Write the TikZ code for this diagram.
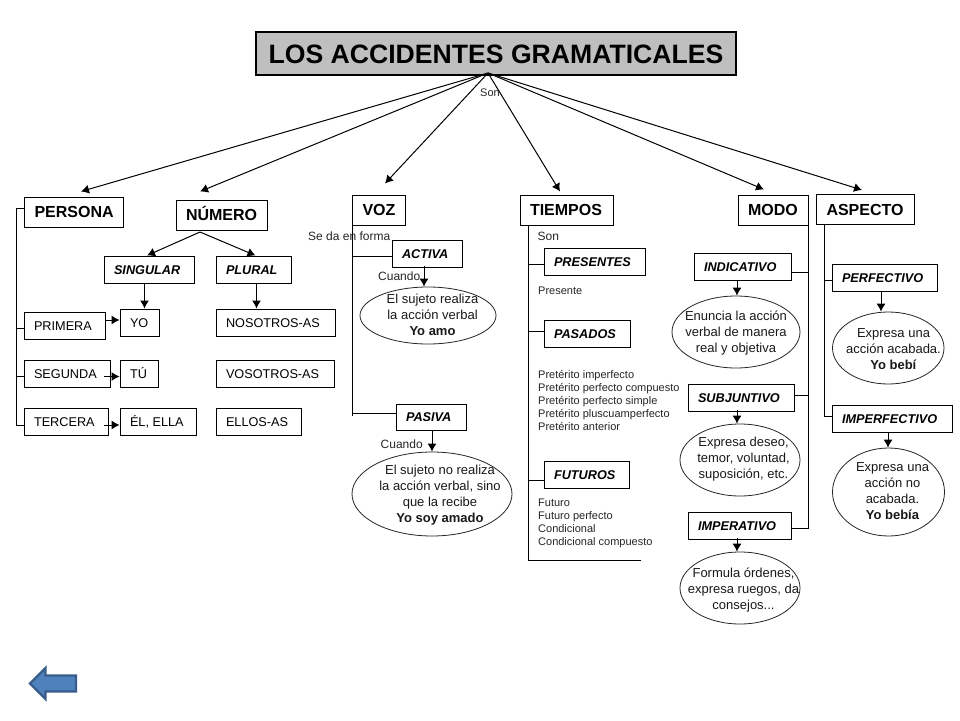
\documentclass[tikz,border=0pt]{standalone}
\usepackage{fontspec}
\setmainfont{Liberation Sans}
\usetikzlibrary{arrows.meta,shapes.geometric}
\newcommand{\fs}[2]{\fontsize{#1}{#2}\selectfont}
\definecolor{btnfill}{RGB}{79,129,189}
\definecolor{btnline}{RGB}{56,93,138}
\tikzset{
  x=1pt,y=-1pt,
  basebox/.style={draw=black,line width=1pt,rectangle,inner sep=0pt,fill=white,text depth=0pt},
  headbox/.style={basebox,font=\fs{16}{18}\bfseries,text height=11.5pt},
  catbox/.style={basebox,font=\fs{12.7}{15}\bfseries\itshape,text height=9.1pt},
  wordbox/.style={basebox,font=\fs{12.7}{15},text height=9.1pt},
  titlebox/.style={draw=black,line width=1.2pt,fill=black!25,inner sep=0pt,font=\fs{26.6}{30}\bfseries,text height=19pt,text depth=0pt},
  oval/.style={ellipse,draw=black!85,line width=.8pt,inner sep=0pt,fill=white},
  ovaltext/.style={align=center,inner sep=0pt,font=\fs{13}{16},text=black!90},
  note/.style={anchor=west,inner sep=0pt,font=\fs{12}{13},text=black!85},
  smallnote/.style={anchor=north west,align=left,inner sep=0pt,font=\fs{11}{13},text=black!85},
  conn/.style={line width=1pt,draw=black},
  arr/.style={line width=1pt,draw=black,-{Latex[length=8pt,width=9pt]}},
  thinarr/.style={arr},
}
\newcommand{\bx}[7]{%
  \pgfmathsetmacro{\bw}{#4-#2}\pgfmathsetmacro{\bh}{#5-#3}%
  \pgfmathsetmacro{\bcx}{(#2+#4)/2}\pgfmathsetmacro{\bcy}{(#3+#5)/2}%
  \node[#6,minimum width=\bw pt,minimum height=\bh pt] (#1) at (\bcx,\bcy)
    {\makebox[\bw pt][l]{\hspace{10pt}#7}};}
\newcommand{\ov}[5]{%
  \pgfmathsetmacro{\bw}{#4-#2}\pgfmathsetmacro{\bh}{#5-#3}%
  \pgfmathsetmacro{\bcx}{(#2+#4)/2}\pgfmathsetmacro{\bcy}{(#3+#5)/2}%
  \node[oval,minimum width=\bw pt,minimum height=\bh pt] (#1) at (\bcx,\bcy) {};}
\begin{document}
\begin{tikzpicture}
\useasboundingbox[fill=white] (0,0) rectangle (960,720);

% title
\node[titlebox,minimum width=480pt,minimum height=43pt] (title) at (496,53.5) {LOS ACCIDENTES GRAMATICALES};

% main heads
\bx{persona}{24.5}{197}{123}{227}{headbox}{PERSONA}
\bx{numero}{176}{200}{267}{230}{headbox}{NÚMERO}
\bx{voz}{352.5}{195}{405}{225}{headbox}{VOZ}
\bx{tiempos}{520}{195}{613}{225}{headbox}{TIEMPOS}
\bx{modo}{738}{195}{808}{225}{headbox}{MODO}
\bx{aspecto}{816.5}{194.5}{914}{224}{headbox}{ASPECTO}

% numero / persona
\bx{singular}{104}{256}{194}{283}{catbox}{SINGULAR}
\bx{plural}{216}{256}{291}{283}{catbox}{PLURAL}
\bx{primera}{24}{312}{105}{339}{wordbox}{PRIMERA}
\bx{yo}{120}{309}{159}{336}{wordbox}{YO}
\bx{segunda}{24}{360}{110}{387}{wordbox}{SEGUNDA}
\bx{tu}{120}{360}{158}{387}{wordbox}{TÚ}
\bx{tercera}{24}{408}{108}{435}{wordbox}{TERCERA}
\bx{el}{120}{408}{196}{435}{wordbox}{ÉL, ELLA}
\bx{nosotros}{216}{309}{335}{336}{wordbox}{NOSOTROS-AS}
\bx{vosotros}{216}{360}{334}{387}{wordbox}{VOSOTROS-AS}
\bx{ellos}{216}{408}{301}{435}{wordbox}{ELLOS-AS}

% categories
\bx{activa}{392}{240}{462}{267}{catbox}{ACTIVA}
\bx{pasiva}{396}{404}{466}{430}{catbox}{PASIVA}
\bx{presentes}{544}{248}{645}{275}{catbox}{PRESENTES}
\bx{pasados}{544}{320}{630}{347}{catbox}{PASADOS}
\bx{futuros}{544}{461}{629}{488}{catbox}{FUTUROS}
\bx{indicativo}{694}{253}{791}{280}{catbox}{INDICATIVO}
\bx{subjuntivo}{688}{384}{794}{411}{catbox}{SUBJUNTIVO}
\bx{imperativo}{688}{512}{791}{539}{catbox}{IMPERATIVO}
\bx{perfectivo}{832}{264}{937}{291}{catbox}{PERFECTIVO}
\bx{imperfectivo}{832}{405}{952}{432}{catbox}{IMPERFECTIVO}

% ovals
\ov{ovact}{360}{287}{496}{344}
\ov{ovpas}{352}{452}{512}{536}
\ov{ovind}{672}{296}{800}{368}
\ov{ovsub}{680}{424}{800}{496}
\ov{ovimp}{680}{552}{800}{624}
\ov{ovperf}{832.5}{312}{944}{384}
\ov{ovimpf}{832.5}{448}{944.5}{536}

% oval texts
\node[ovaltext] (tact) at (432.5,315) {El sujeto realiza\\la acción verbal\\\textbf{Yo amo}};
\node[ovaltext] (tpas) at (440,495) {El sujeto no realiza\\la acción verbal, sino\\que la recibe\\\textbf{Yo soy amado}};
\node[ovaltext] (tind) at (736,333) {Enuncia la acción\\verbal de manera\\real y objetiva};
\node[ovaltext] (tsub) at (743.5,459) {Expresa deseo,\\temor, voluntad,\\suposición, etc.};
\node[ovaltext] (timp) at (743.5,590) {Formula órdenes,\\expresa ruegos, da\\consejos...};
\node[ovaltext] (tperf) at (893.5,349) {Expresa una\\acción acabada.\\\textbf{Yo bebí}};
\node[ovaltext] (timpf) at (892.5,491) {Expresa una\\acción no\\acabada.\\\textbf{Yo bebía}};

% top connectors
\coordinate (apex) at (488,73);
\draw[arr] (apex) -- ([xshift=7.25,yshift=5]persona.north);
\draw[arr] (apex) -- ([xshift=-21.5,yshift=8]numero.north);
\draw[arr] (apex) -- ([xshift=6.25,yshift=11]voz.north);
\draw[arr] (apex) -- ([xshift=-6.5,yshift=3]tiempos.north);
\draw[arr] (apex) -- ([xshift=-9,yshift=5]modo.north);
\draw[arr] (apex) -- ([xshift=-3.25,yshift=4]aspecto.north);

% numero
\coordinate (napex) at (200,232);
\draw[thinarr] (napex) -- ([xshift=-2]singular.north);
\draw[thinarr] (napex) -- ([xshift=2]plural.north);
\coordinate (sx) at (144.5,0);
\coordinate (px) at (256.5,0);
\draw[thinarr] (sx |- singular.south) -- (sx |- yo.north);
\draw[thinarr] (px |- plural.south) -- (px |- nosotros.north);

% persona bus
\coordinate (pb1) at (16,208);
\coordinate (pb2) at (16,328);
\coordinate (pb3) at (16,376);
\coordinate (pb4) at (16,425);
\draw[conn] (pb1 -| persona.west) -- (pb1) -- (pb4) -- (pb4 -| tercera.west);
\draw[conn] (pb2) -- (pb2 -| primera.west);
\draw[conn] (pb3) -- (pb3 -| segunda.west);
\coordinate (ra) at (105,320);
\coordinate (rb) at (104,376.5);
\coordinate (rc) at (104,425);
\draw[thinarr] (ra) -- (ra -| yo.west);
\draw[thinarr] (rb) -- (rb -| tu.west);
\draw[thinarr] (rc) -- (rc -| el.west);

% voz
\coordinate (vb0) at (352.5,225);
\coordinate (vb1) at (352.5,256);
\coordinate (vb2) at (352.5,413);
\coordinate (vb3) at (352.5,416);
\draw[conn] (vb0) -- (vb3);
\draw[conn] (vb1) -- (vb1 -| activa.west);
\draw[conn] (vb2) -- (vb2 -| pasiva.west);
\coordinate (vx1) at (424,0);
\coordinate (vx2) at (432,0);
\draw[thinarr] ([yshift=2]vx1 |- activa.south) -- (vx1 |- ovact.north);
\draw[thinarr] (vx2 |- pasiva.south) -- (vx2 |- ovpas.north);

% tiempos
\coordinate (tb0) at (528.5,225);
\coordinate (tb1) at (528.5,264.5);
\coordinate (tb2) at (528.5,331);
\coordinate (tb3) at (528.5,480);
\coordinate (tb4) at (528.5,560);
\coordinate (tend) at (641,560);
\draw[conn] (tb0) -- (tb4) -- (tend);
\draw[conn] (tb1) -- (tb1 -| presentes.west);
\draw[conn] (tb2) -- (tb2 -| pasados.west);
\draw[conn] (tb3) -- (tb3 -| futuros.west);

% modo
\coordinate (mb0) at (808,225);
\coordinate (mb1) at (808,272);
\coordinate (mb2) at (808,395);
\coordinate (mb3) at (808,528);
\draw[conn] (mb0) -- (mb3) -- (mb3 -| imperativo.east);
\draw[conn] (mb1) -- (mb1 -| indicativo.east);
\draw[conn] (mb2) -- (mb2 -| subjuntivo.east);
\coordinate (mx) at (737,0);
\draw[thinarr] (mx |- indicativo.south) -- (mx |- ovind.north);
\draw[thinarr] ([yshift=2]mx |- subjuntivo.south) -- (mx |- ovsub.north);
\draw[thinarr] ([yshift=2]mx |- imperativo.south) -- (mx |- ovimp.north);

% aspecto
\coordinate (ab0) at (824,224);
\coordinate (ab1) at (824,280.5);
\coordinate (ab2) at (824,416);
\draw[conn] (ab0) -- (ab2) -- (ab2 -| imperfectivo.west);
\draw[conn] (ab1) -- (ab1 -| perfectivo.west);
\coordinate (ax1) at (881,0);
\coordinate (ax2) at (888,0);
\draw[thinarr] ([yshift=1]ax1 |- perfectivo.south) -- (ax1 |- ovperf.north);
\draw[thinarr] (ax2 |- imperfectivo.south) -- (ax2 |- ovimpf.north);

% notes
\node[note,font=\fs{11}{13}] (n1) at (480,93) {Son};
\node[note] (n2) at (308,236.5) {Se da en forma};
\node[note] (n3) at (378,276.5) {Cuando};
\node[note] (n4) at (380.5,444.5) {Cuando};
\node[note] (n5) at (537.5,236.5) {Son};
\node[note,font=\fs{11}{13}] (n6) at (538,291) {Presente};
\node[smallnote] (n7) at (538,370.5) {Pretérito imperfecto\\Pretérito perfecto compuesto\\Pretérito perfecto simple\\Pretérito pluscuamperfecto\\Pretérito anterior};
\node[smallnote] (n8) at (538,499) {Futuro\\Futuro perfecto\\Condicional\\Condicional compuesto};

% back button
\draw[line width=2.4pt,fill=btnfill,draw=btnline,line join=miter]
  (30,683.5) -- (45.5,668) -- (45.5,675.5) -- (76,675.5) -- (76,691.5) -- (45.5,691.5) -- (45.5,699) -- cycle;
\end{tikzpicture}
\end{document}
